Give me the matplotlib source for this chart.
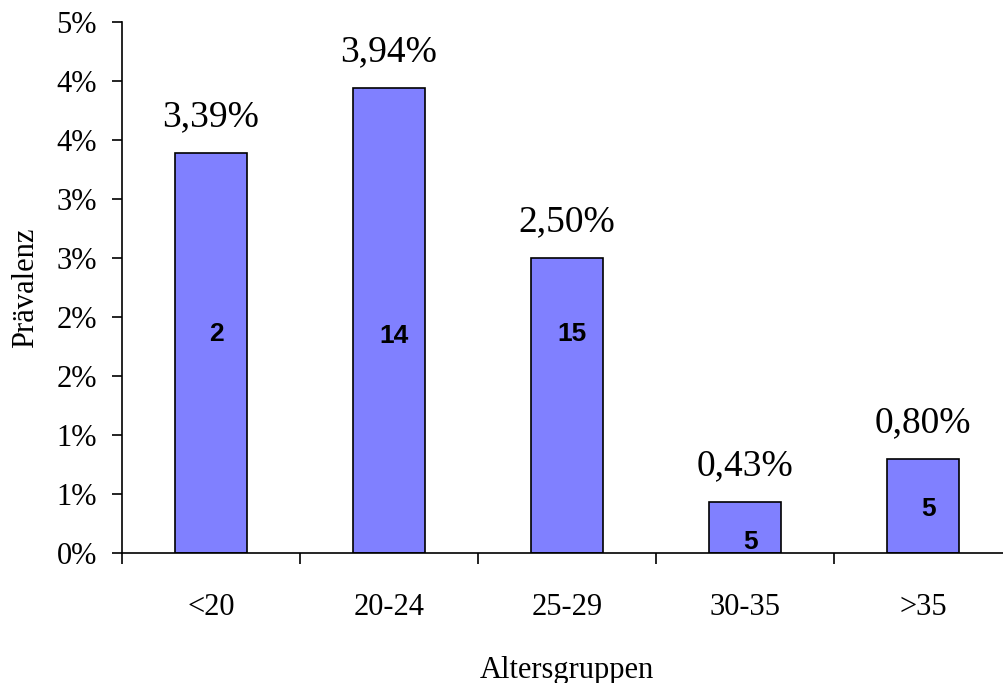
import numpy as np
import matplotlib
matplotlib.use("Agg")
import matplotlib.pyplot as plt

# Prävalenz je Altersgruppe (in %) und Fallzahlen
groups = ["<20", "20-24", "25-29", "30-35", ">35"]
prevalence = [3.39, 3.94, 2.50, 0.43, 0.80]
cases = [2, 14, 15, 5, 5]
case_label_y = [1.86, 1.84, 1.86, 0.09, 0.37]

y_ticks = [0, 0.5, 1.0, 1.5, 2.0, 2.5, 3.0, 3.5, 4.0, 4.5]
y_tick_labels = ["0%", "1%", "1%", "2%", "2%", "3%", "3%", "4%", "4%", "5%"]

serif = "Liberation Serif"
sans = "Liberation Sans"

fig = plt.figure(figsize=(10.04, 6.83), dpi=100)
ax = fig.add_axes([122 / 1004, 130 / 683, 890 / 1004, 531 / 683])

x = np.arange(len(groups))
ax.bar(x, prevalence, width=0.4, color="#8080ff", edgecolor="black", linewidth=1.2, zorder=2)

# Prozentwerte über den Balken
for xi, v in zip(x, prevalence):
    ax.annotate(f"{v:.2f}%".replace(".", ","), (xi, v), xytext=(0, 26),
                textcoords="offset points", ha="center", va="center",
                fontsize=27, family=serif)

# Fallzahlen in den Balken
for xi, n, yl in zip(x, cases, case_label_y):
    ax.text(xi + 0.03, yl, str(n), ha="center", va="center",
            fontsize=19, fontweight="bold", family=sans)

ax.set_xlim(-0.5, len(groups) - 0.5)
ax.set_ylim(0, 4.5)

ax.set_yticks(y_ticks)
ax.set_yticklabels(y_tick_labels, fontsize=22, family=serif)
ax.set_xticks(x)
ax.set_xticklabels(groups, fontsize=22, family=serif)
ax.set_xticks(np.arange(len(groups) + 1) - 0.5, minor=True)

ax.tick_params(axis="y", direction="out", length=7, width=1.2, pad=11)
ax.tick_params(axis="x", which="major", length=0, pad=29)
ax.tick_params(axis="x", which="minor", direction="out", length=8, width=1.2)

for side in ["top", "right"]:
    ax.spines[side].set_visible(False)
for side in ["left", "bottom"]:
    ax.spines[side].set_linewidth(1.2)

ax.set_xlabel("Altersgruppen", fontsize=22, family=serif, labelpad=24)
ax.set_ylabel("Prävalenz", fontsize=22, family=serif, labelpad=12)

fig.savefig("out.png", dpi=100)
